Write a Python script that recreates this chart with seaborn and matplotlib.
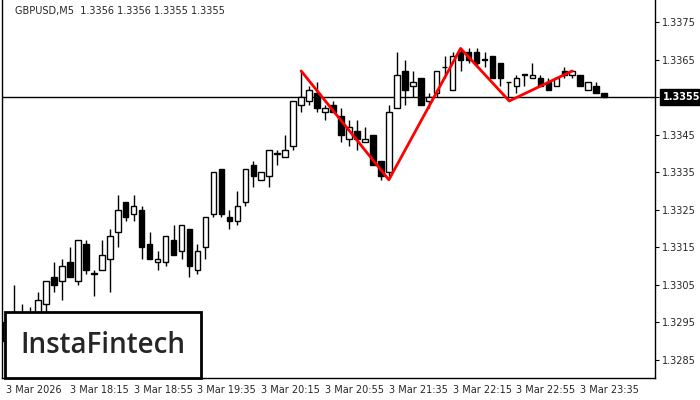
import matplotlib
matplotlib.use("Agg")
import matplotlib.pyplot as plt
import numpy as np
import pandas as pd
import seaborn as sns
from matplotlib.patches import Rectangle

opens = [1.3290, 1.3294, 1.3293, 1.3293, 1.3296, 1.3300, 1.3307, 1.3306, 1.3311, 1.3306,
         1.3316, 1.3308, 1.3309, 1.3312, 1.3319, 1.3327, 1.3324, 1.3325, 1.3316, 1.3311,
         1.3311, 1.3317, 1.3314, 1.3320, 1.3309, 1.3315, 1.3324, 1.3336, 1.3323, 1.3322,
         1.3327, 1.3337, 1.3333, 1.3334, 1.3340, 1.3339, 1.3342, 1.3353, 1.3354, 1.3356,
         1.3351, 1.3353, 1.3350, 1.3344, 1.3346, 1.3343, 1.3345, 1.3338, 1.3335, 1.3352,
         1.3362, 1.3358, 1.3360, 1.3354, 1.3356, 1.3363, 1.3357, 1.3367, 1.3367, 1.3367,
         1.3365, 1.3366, 1.3364, 1.3359, 1.3358, 1.3361, 1.3360, 1.3360, 1.3359, 1.3358,
         1.3362, 1.3361, 1.3361, 1.3357, 1.3358, 1.3356]
closes = [1.3295, 1.3292, 1.3295, 1.3297, 1.3301, 1.3306, 1.3305, 1.3310, 1.3307, 1.3317,
          1.3309, 1.3308, 1.3313, 1.3318, 1.3325, 1.3323, 1.3326, 1.3315, 1.3312, 1.3312,
          1.3318, 1.3313, 1.3321, 1.3310, 1.3314, 1.3323, 1.3335, 1.3324, 1.3322, 1.3326,
          1.3336, 1.3334, 1.3335, 1.3341, 1.3340, 1.3341, 1.3354, 1.3355, 1.3357, 1.3352,
          1.3352, 1.3351, 1.3345, 1.3347, 1.3344, 1.3344, 1.3337, 1.3334, 1.3351, 1.3361,
          1.3357, 1.3359, 1.3353, 1.3355, 1.3362, 1.3363, 1.3366, 1.3365, 1.3365, 1.3364,
          1.3365, 1.3360, 1.3360, 1.3359, 1.3360, 1.3361, 1.3361, 1.3358, 1.3357, 1.3360,
          1.3361, 1.3362, 1.3358, 1.3359, 1.3356, 1.3355]
highs = [1.3297, 1.3305, 1.3300, 1.3299, 1.3303, 1.3306, 1.3311, 1.3312, 1.3315, 1.3317,
         1.3317, 1.3309, 1.3317, 1.3320, 1.3329, 1.3327, 1.3329, 1.3326, 1.3319, 1.3314,
         1.3318, 1.3321, 1.3321, 1.3320, 1.3316, 1.3323, 1.3335, 1.3336, 1.3325, 1.3330,
         1.3336, 1.3338, 1.3335, 1.3341, 1.3341, 1.3345, 1.3354, 1.3362, 1.3358, 1.3359,
         1.3353, 1.3354, 1.3352, 1.3349, 1.3349, 1.3347, 1.3345, 1.3338, 1.3353, 1.3367,
         1.3365, 1.3362, 1.3360, 1.3356, 1.3362, 1.3366, 1.3367, 1.3368, 1.3368, 1.3368,
         1.3367, 1.3366, 1.3364, 1.3359, 1.3361, 1.3361, 1.3364, 1.3361, 1.3360, 1.3360,
         1.3363, 1.3362, 1.3361, 1.3359, 1.3359, 1.3356]
lows = [1.3285, 1.3285, 1.3286, 1.3291, 1.3291, 1.3296, 1.3303, 1.3301, 1.3307, 1.3305,
        1.3308, 1.3302, 1.3309, 1.3303, 1.3315, 1.3322, 1.3322, 1.3312, 1.3312, 1.3309,
        1.3310, 1.3313, 1.3312, 1.3307, 1.3308, 1.3312, 1.3323, 1.3323, 1.3320, 1.3321,
        1.3326, 1.3331, 1.3333, 1.3331, 1.3337, 1.3339, 1.3341, 1.3351, 1.3353, 1.3351,
        1.3349, 1.3351, 1.3343, 1.3342, 1.3341, 1.3343, 1.3337, 1.3333, 1.3334, 1.3352,
        1.3353, 1.3355, 1.3353, 1.3352, 1.3355, 1.3360, 1.3357, 1.3362, 1.3364, 1.3363,
        1.3363, 1.3360, 1.3358, 1.3354, 1.3356, 1.3358, 1.3360, 1.3358, 1.3357, 1.3358,
        1.3360, 1.3360, 1.3358, 1.3357, 1.3356, 1.3355]

pattern_idx = [37, 48, 57, 63.1, 71]
pattern_price = [1.3362, 1.3333, 1.3368, 1.3354, 1.3362]

price_ticks = [1.3285, 1.3295, 1.3305, 1.3315, 1.3325, 1.3335, 1.3345, 1.3355, 1.3365, 1.3375]
time_labels = ["3 Mar 2026", "3 Mar 18:15", "3 Mar 18:55", "3 Mar 19:35", "3 Mar 20:15",
               "3 Mar 20:55", "3 Mar 21:35", "3 Mar 22:15", "3 Mar 22:55", "3 Mar 23:35"]
last_price = 1.3355

sns.set_style("white")
plt.rcParams["font.family"] = ["DejaVu Sans"]

df = pd.DataFrame({"o": opens, "c": closes, "h": highs, "l": lows})
df["i"] = np.arange(len(df))

fig = plt.figure(figsize=(7, 4), dpi=100)
ax = fig.add_axes([0.003, 0.055, 0.933, 0.945])

ax.vlines(df["i"], df["l"], df["h"], color="black", linewidth=1, zorder=2)
up = df["c"] >= df["o"]
bottom = np.minimum(df["o"], df["c"])
height = np.maximum(np.abs(df["c"] - df["o"]), 0.000015)
ax.bar(df["i"][up], height[up], bottom=bottom[up], width=0.7,
       color="white", edgecolor="black", linewidth=1, zorder=3)
ax.bar(df["i"][~up], height[~up], bottom=bottom[~up], width=0.7,
       color="black", edgecolor="black", linewidth=1, zorder=3)

sns.lineplot(x=pattern_idx, y=pattern_price, ax=ax, color="#ff0000", linewidth=2,
             sort=False, zorder=4)

ax.axhline(last_price, color="black", linewidth=1, zorder=1)

ax.set_xlim(-0.5, 81.4)
ax.set_ylim(1.32802, 1.33809)
ax.yaxis.tick_right()
ax.set_yticks(price_ticks)
ax.set_yticklabels(["" if p == last_price else f"{p:.4f}" for p in price_ticks], fontsize=7)
ax.set_xticks(np.arange(0, 80, 8))
ax.set_xticklabels(time_labels, fontsize=7, ha="left")
ax.tick_params(axis="both", length=3, color="black", pad=2)
for s in ax.spines.values():
    s.set_color("black")
    s.set_linewidth(1)
ax.spines["top"].set_visible(False)

ax.text(1.012, last_price, "1.3355", transform=ax.get_yaxis_transform(), fontsize=7,
        color="white", va="center", ha="left", fontweight="bold",
        bbox=dict(boxstyle="square,pad=0.3", fc="black", ec="black"))
ax.text(0.02, 0.985, "GBPUSD,M5  1.3356 1.3356 1.3355 1.3355", transform=ax.transAxes,
        fontsize=7, va="top", ha="left")

ax.add_patch(Rectangle((0.004, 0.0), 0.3, 0.175, transform=ax.transAxes,
                       fc="white", ec="black", lw=2, zorder=6, clip_on=False))
ax.text(0.154, 0.085, "InstaFintech", transform=ax.transAxes, fontsize=20,
        ha="center", va="center", zorder=7, family="Open Sans", fontweight="semibold")

fig.savefig("out.png", dpi=100)
